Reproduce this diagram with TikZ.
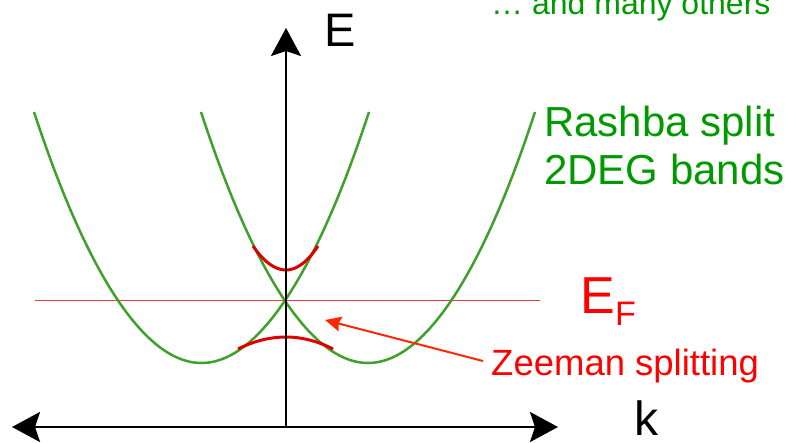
\documentclass[tikz,border=0pt]{standalone}
\usepackage{fontspec}
\setmainfont{Liberation Sans}
\usetikzlibrary{arrows.meta}
\definecolor{bandgreen}{RGB}{64,160,44}
\definecolor{textgreen}{RGB}{0,153,0}
\definecolor{zred}{RGB}{222,0,0}
\definecolor{efred}{RGB}{230,60,60}
\definecolor{arrred}{RGB}{255,40,0}
\tikzset{
  axisline/.style={line width=2.6pt, black, {Stealth[length=28pt,width=30pt,inset=5pt]}-{Stealth[length=28pt,width=30pt,inset=5pt]}},
  yaxisline/.style={line width=2.6pt, black, -{Stealth[length=28pt,width=30pt,inset=5pt]}},
  band/.style={line width=2.5pt, bandgreen},
  zband/.style={line width=3pt, zred},
  efline/.style={line width=1pt, efred},
  pointer/.style={line width=2pt, arrred, -{Stealth[length=16pt,width=15pt,inset=2pt]}},
  lbl/.style={inner sep=0pt, anchor=base west},
}
\begin{document}
\begin{tikzpicture}[x=1pt,y=-1pt]
\useasboundingbox (0,0) rectangle (786,443);
% coordinates
\coordinate (o) at (286,427);
\coordinate (ytop) at (286,28);
\coordinate (xl) at (12,427);
\coordinate (xr) at (558,427);
\coordinate (efl) at (35,300);
\coordinate (efr) at (540,300);
% Fermi level
\draw[efline] (efl) -- (efr);
% bands
\draw[band] (34,112) parabola bend (201.5,363) (369,112);
\draw[band] (201,112) parabola bend (368,363) (535,112);
% Zeeman gaps
\draw[zband] (253,246) parabola bend (286,270) (318,246);
\draw[zband] (238,349) parabola bend (286,337) (333,349);
% axes
\draw[axisline] (xl) -- (xr);
\draw[yaxisline] (o) -- (ytop);
% labels
\node[lbl, font=\fontsize{47}{47}\selectfont] (E) at (324,47) {E};
\node[lbl, font=\fontsize{48}{48}\selectfont] (k) at (634,435) {k};
\node[lbl, font=\fontsize{42}{42}\selectfont, text=textgreen] (r1) at (544,137) {Rashba split};
\node[lbl, font=\fontsize{42}{42}\selectfont, text=textgreen] (r2) at (544,185) {2DEG bands};
\node[lbl, font=\fontsize{32}{32}\selectfont, text=textgreen] (others) at (491,15) {… and many others};
\node[lbl, font=\fontsize{52}{52}\selectfont, text=red] (EF) at (580,313) {E};
\node[lbl, font=\fontsize{34}{34}\selectfont, text=red] (F) at (615,325) {F};
\node[lbl, font=\fontsize{36.5}{36.5}\selectfont, text=red] (zee) at (491,375) {Zeeman splitting};
\coordinate (ptip) at (325,320);
\coordinate (ptail) at (483,361);
\draw[pointer] (ptail) -- (ptip);
\end{tikzpicture}
\end{document}
